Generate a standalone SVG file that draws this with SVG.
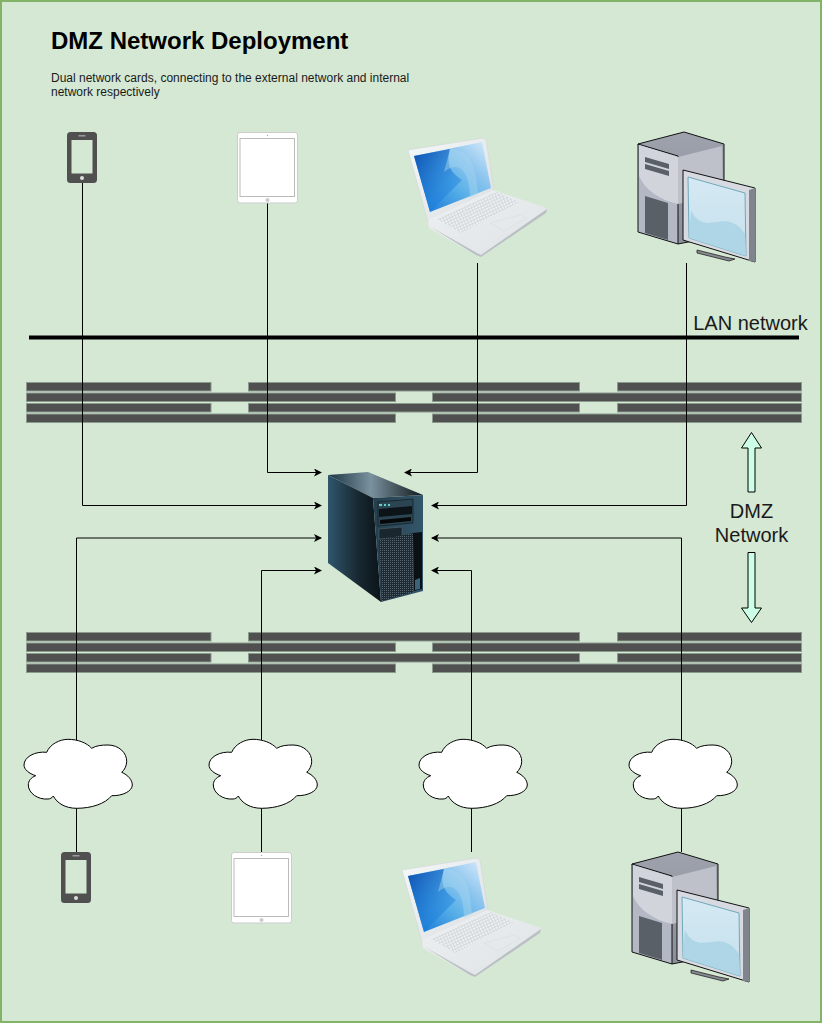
<svg xmlns="http://www.w3.org/2000/svg" xmlns:xlink="http://www.w3.org/1999/xlink" width="822" height="1023" viewBox="0 0 822 1023">
<style>
text{font-family:"Liberation Sans",Arial,sans-serif;fill:#1a1a1a}
.bar{fill:#505050;stroke:#8a9a8c;stroke-width:1}
.cn{fill:none;stroke:#000;stroke-width:1}
.cloud{fill:#fff;stroke:#000;stroke-width:1}
.fat{fill:#ccffe6;stroke:#000;stroke-width:1}
.lbl{font-size:20px;text-anchor:middle}
</style>
<defs>
<marker id="ah" viewBox="0 0 8 8" refX="7" refY="4" markerWidth="8" markerHeight="8" orient="auto" markerUnits="userSpaceOnUse"><path d="M0 0L8 4L0 8L2 4Z" fill="#000"/></marker>
<linearGradient id="scr" x1="0" y1="1" x2="1" y2="0"><stop offset="0" stop-color="#0d6fd6"/><stop offset=".45" stop-color="#58b0e8"/><stop offset=".7" stop-color="#8fc6ef"/><stop offset="1" stop-color="#d8ecfb"/></linearGradient>
<linearGradient id="scr2" x1="0" y1="0" x2="1" y2="1"><stop offset="0" stop-color="#0d4fb0"/><stop offset=".6" stop-color="#1f7fd8" stop-opacity=".6"/><stop offset="1" stop-color="#0f7be0" stop-opacity=".1"/></linearGradient>
<linearGradient id="lid" x1="0" y1="0" x2="1" y2="1"><stop offset="0" stop-color="#f6f8f9"/><stop offset="1" stop-color="#dadfe2"/></linearGradient>
<linearGradient id="base" x1="0" y1="0" x2="1" y2="1"><stop offset="0" stop-color="#eef0f2"/><stop offset="1" stop-color="#dfe3e5"/></linearGradient>
<linearGradient id="srvL" x1="0" y1="0" x2="1" y2="0"><stop offset="0" stop-color="#2f566c"/><stop offset=".6" stop-color="#17262f"/><stop offset="1" stop-color="#0b1318"/></linearGradient>
<linearGradient id="srvT" x1="0" y1="0" x2="1" y2="0"><stop offset="0" stop-color="#1d3442"/><stop offset=".45" stop-color="#7a929e"/><stop offset="1" stop-color="#10181d"/></linearGradient>
<linearGradient id="srvF" x1="0" y1="0" x2="1" y2="0"><stop offset="0" stop-color="#253f4e"/><stop offset="1" stop-color="#33576a"/></linearGradient>
<linearGradient id="mon" x1="0" y1="0" x2="0" y2="1"><stop offset="0" stop-color="#d5e9f3"/><stop offset="1" stop-color="#c4e0ec"/></linearGradient>
<linearGradient id="tow" x1="0" y1="0" x2="0" y2="1"><stop offset="0" stop-color="#9ea2ac"/><stop offset="1" stop-color="#8a8f9a"/></linearGradient>
<pattern id="mesh" width="2" height="2" patternUnits="userSpaceOnUse"><rect width="2" height="2" fill="#1d2a32"/><rect width="1" height="1" fill="#55646e"/></pattern>
<pattern id="keys" width="3" height="3" patternUnits="userSpaceOnUse" patternTransform="rotate(-25)"><rect width="3" height="3" fill="#eef1f3"/><rect width="1" height="3" fill="#d3d9dd"/><rect width="3" height="1" fill="#d3d9dd"/></pattern>
<g id="barset">
<rect class="bar" x="26.500" y="382.500" width="184.500" height="8.500"/><rect class="bar" x="248.500" y="382.500" width="331" height="8.500"/><rect class="bar" x="617.500" y="382.500" width="184" height="8.500"/>
<rect class="bar" x="26.500" y="393" width="369" height="8.500"/><rect class="bar" x="432.500" y="393" width="369" height="8.500"/>
<rect class="bar" x="26.500" y="403.500" width="184.500" height="8.500"/><rect class="bar" x="248.500" y="403.500" width="331" height="8.500"/><rect class="bar" x="617.500" y="403.500" width="184" height="8.500"/>
<rect class="bar" x="26.500" y="414" width="369" height="8.500"/><rect class="bar" x="432.500" y="414" width="369" height="8.500"/>
</g>
<path id="cl" class="cloud" d="M46.700 752.300C50 744 60 739.300 68 739.300C78 739.300 87 743 91.700 748.300C96 745.500 102 745 108 745C119 745 127 753 126.700 761.700C126.500 766 124.500 770 121.700 772.300C128 775 132.300 780 132.300 785C132.300 791 123 796 111.700 795.700C105 804 91 808.300 76.700 808.300C65 808.300 57 803 53.300 796C52 798 50 799 48 799C38 800 28.300 793 28.300 785C28.300 781 31 777.500 35.700 775.700C29 773.500 24 769.500 24 765C24 757 35 751 46.700 752.300Z"/>
<g id="phone"><path fill-rule="evenodd" fill="#505050" d="M70.500 132H93.500A3.500 3.500 0 0 1 97 135.500V179.500A3.500 3.500 0 0 1 93.500 183H70.500A3.500 3.500 0 0 1 67 179.500V135.500A3.500 3.500 0 0 1 70.500 132ZM71.500 140V173.500H92.500V140Z"/><rect x="78.500" y="135" width="7" height="1.500" fill="#999"/><circle cx="82" cy="178" r="2" fill="#ddd"/></g>
<g id="tablet"><rect x="237.500" y="132.500" width="60" height="70.500" rx="2.500" fill="#fff" stroke="#ccc"/><rect x="240" y="138.500" width="54.500" height="58" fill="#fff" stroke="#bbb"/><circle cx="267.500" cy="200" r="2" fill="#ccc"/><circle cx="267.500" cy="135.500" r=".7" fill="#aaa"/></g>
<g id="laptop">
<path d="M408 150L483 138L486 140L494 190L428 222Z" fill="url(#lid)" stroke="#ccd1d4" stroke-width=".5"/>
<path d="M414 156L482 142L491 188L430 212Z" fill="url(#scr)"/>
<path d="M414 156L450 149C446 165 450 172 462 180L430 212Z" fill="url(#scr2)"/>
<path d="M450 149C470 150 476 165 478 194L470 198C470 170 458 160 444 172Z" fill="#a9d7ef" fill-opacity=".45"/>
<path d="M428 220L493 190L547 208L546 213L481 257L476 255L429 228Z" fill="url(#base)"/>
<path d="M429 226L477 253L481 255L547 209L546 213L481 257L476 255Z" fill="#b9bfc3"/>
<path d="M437 219L497 192L519 202L461 233Z" fill="url(#keys)"/>
<path d="M490 223L520 215L526 218L504 231Z" fill="#e6e9eb" stroke="#d7dbde" stroke-width=".5"/>
</g>
<g id="pc">
<path d="M638 144L684 132L724 144L724 235L678 244Z" fill="url(#tow)" stroke="#111"/>
<path d="M638 144L678 156L678 244L638 232Z" fill="#b3b8c4" stroke="#111"/>
<path d="M639 145L678 157L678 204C660 200 645 190 639 176Z" fill="#d2d4dc"/>
<path d="M678 157L722 146L723 194L678 204Z" fill="#bfc1ca"/>
<path d="M645 157L669 164V169L645 162ZM645 164L669 171V176L645 169Z" fill="#5a6068"/>
<path d="M645 196L668 203V240L645 233Z" fill="#5a6068"/>
<path d="M697 250L725 257L735 259L729 261L697 253Z" fill="#868a90" stroke="#111" stroke-width=".7"/>
<path d="M683 170L755 188V262L683 240Z" fill="#d7dae0" stroke="#111"/>
<path d="M749 190L755 188V262L749 261Z" fill="#80848c"/>
<path d="M688 177L745 193L746 256L689 238Z" fill="url(#mon)" stroke="#6fa9bc"/>
<path d="M691 210C700 232 720 218 730 222C738 224 742 230 745 234L746 256L689 238Z" fill="#aed6e6"/>
</g>
</defs>
<rect id="canvas" x="1" y="1" width="820" height="1021" fill="#d5e8d4" stroke="#82b366" stroke-width="2"/>
<g id="title"><text x="51" y="48.500" font-size="24px" font-weight="bold" style="fill:#000">DMZ Network Deployment</text></g>
<g id="subtitle"><text x="51" y="82" font-size="12px">Dual network cards, connecting to the external network and internal</text><text x="51" y="96" font-size="12px">network respectively</text></g>
<g id="bars-top"><use xlink:href="#barset" href="#barset"/></g>
<g id="bars-bottom"><use xlink:href="#barset" href="#barset" y="250"/></g>
<g id="connectors">
<path class="cn" marker-end="url(#ah)" d="M82.500 183V505.500H321"/>
<path class="cn" marker-end="url(#ah)" d="M267.500 203V472.500H321"/>
<path class="cn" marker-end="url(#ah)" d="M477.500 263V472.500H405"/>
<path class="cn" marker-end="url(#ah)" d="M686.500 263V505.500H432"/>
<path class="cn" marker-end="url(#ah)" d="M76.500 852V538H321"/>
<path class="cn" marker-end="url(#ah)" d="M261.500 852V570.500H321"/>
<path class="cn" marker-end="url(#ah)" d="M471.500 852V570.500H432"/>
<path class="cn" marker-end="url(#ah)" d="M681.500 852V538H432"/>
</g>
<g id="lan-line"><path d="M29 337.500H799" stroke="#000" stroke-width="4" fill="none"/></g>
<g id="lan-label"><text class="lbl" x="750.500" y="330">LAN network</text></g>
<g id="dmz-label"><text class="lbl" x="751.500" y="518">DMZ</text><text class="lbl" x="751.500" y="542">Network</text></g>
<g id="arrow-up"><path class="fat" d="M748 492V448H741.500L751.500 432.500L761.500 448H755V492Z"/></g>
<g id="arrow-down"><path class="fat" d="M748 552.500V608H741.500L751.500 622.500L761.500 608H755V552.500Z"/></g>
<g id="server">
<path d="M328 475L368 472L423 495L373 498Z" fill="url(#srvT)"/>
<path d="M328 475L373 498L381 602L328 563Z" fill="url(#srvL)"/>
<path d="M373 498L423 495L423 591L381 602Z" fill="url(#srvF)"/>
<path d="M378 502L413 499V523L378 526Z" fill="#2b4553" stroke="#0c1418" stroke-width=".6"/>
<path d="M379 505H382M384 505H386M388 505H390" stroke="#62d0c8" stroke-width="2"/>
<path d="M379 509L412 506V514L379 517Z" fill="#0c1418"/>
<path d="M380 520L411 517V521L380 524Z" fill="#050708"/>
<path d="M379 529L402 527V537L379 539Z" fill="#1a262d" stroke="#5b6d78" stroke-width=".5"/>
<path d="M379 540L413 533V592L382 601Z" fill="url(#mesh)"/>
<path d="M413 533L422 532V589L414 591Z" fill="#0a1014"/>
<path d="M415 580L420 578V589L415 590Z" fill="#3c6478"/>
</g>
<g id="dev-top-phone"><use xlink:href="#phone" href="#phone"/></g>
<g id="dev-top-tablet"><use xlink:href="#tablet" href="#tablet"/></g>
<g id="dev-top-laptop"><use xlink:href="#laptop" href="#laptop"/></g>
<g id="dev-top-pc"><use xlink:href="#pc" href="#pc"/></g>
<g id="cloud-1"><use xlink:href="#cl" href="#cl"/></g>
<g id="cloud-2"><use xlink:href="#cl" href="#cl" x="185"/></g>
<g id="cloud-3"><use xlink:href="#cl" href="#cl" x="395"/></g>
<g id="cloud-4"><use xlink:href="#cl" href="#cl" x="605"/></g>
<g id="dev-bot-phone"><use xlink:href="#phone" href="#phone" x="-6" y="720"/></g>
<g id="dev-bot-tablet"><use xlink:href="#tablet" href="#tablet" x="-6" y="720"/></g>
<g id="dev-bot-laptop"><use xlink:href="#laptop" href="#laptop" x="-6" y="720"/></g>
<g id="dev-bot-pc"><use xlink:href="#pc" href="#pc" x="-6" y="720"/></g>
</svg>
